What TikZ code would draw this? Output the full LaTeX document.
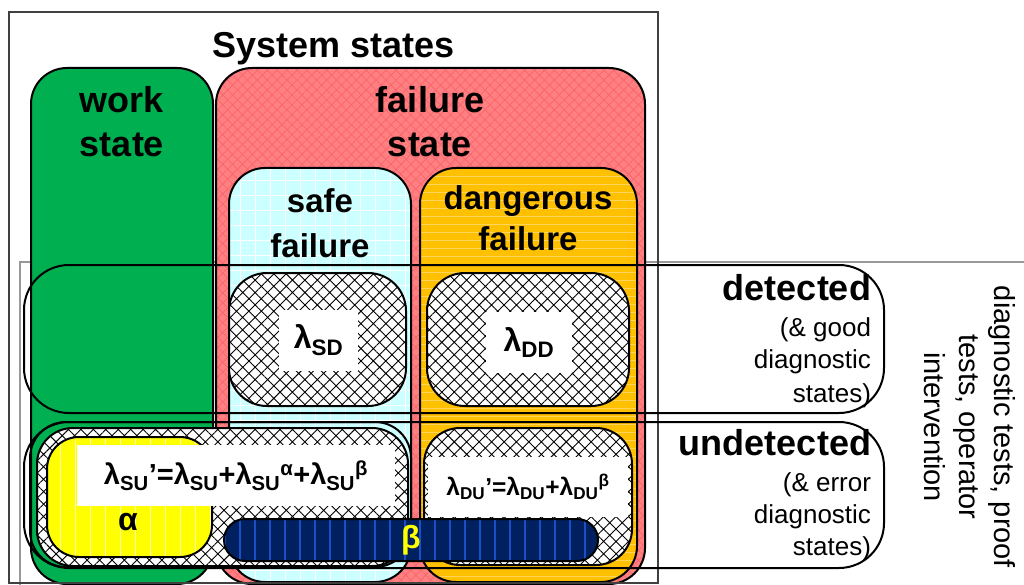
\documentclass[tikz,border=0pt]{standalone}
\usepackage{fontspec}
\setmainfont{Liberation Sans}
\usetikzlibrary{patterns.meta}
\definecolor{wgreen}{HTML}{00B050}
\definecolor{fred}{HTML}{FF8080}
\definecolor{fredl}{HTML}{FA6670}
\definecolor{scyan}{HTML}{CCFFFF}
\definecolor{dorange}{HTML}{FFC000}
\definecolor{dorangel}{HTML}{FFD45A}
\definecolor{ayellow}{HTML}{FFFF00}
\definecolor{ayellowl}{HTML}{FFFFB0}
\definecolor{bnavy}{HTML}{002060}
\definecolor{bnavyl}{HTML}{1A4FC8}
\definecolor{frame}{HTML}{404040}
\definecolor{gframe}{HTML}{999999}
\newcommand\fs[2]{\fontsize{#1}{#2}\selectfont}
\tikzset{
  box/.style={draw=black, line width=2pt, inner sep=0pt, outer sep=0pt},
  outline/.style={draw=black, line width=2pt, inner sep=0pt, outer sep=0pt},
  hatchbox/.style={box, preaction={fill=white},
    preaction={pattern={Hatch[angle=45,distance=8.8pt,line width=0.9pt]}, pattern color=black}},
  redbox/.style={box, preaction={fill=fred},
    preaction={pattern={Hatch[angle=45,distance=7pt,line width=0.8pt]}, pattern color=fredl}},
  cyanbox/.style={box, preaction={fill=scyan},
    preaction={pattern={Hatch[angle=0,distance=15pt,line width=0.8pt]}, pattern color=white}},
  orangebox/.style={box, preaction={fill=dorange},
    preaction={pattern={Lines[angle=0,distance=8pt,line width=1pt]}, pattern color=dorangel}},
  yellowbox/.style={box, preaction={fill=ayellow},
    preaction={pattern={Lines[angle=90,distance=15pt,line width=1pt]}, pattern color=ayellowl}},
  navybox/.style={box, preaction={fill=bnavy},
    preaction={pattern={Lines[angle=90,distance=15pt,line width=1.5pt]}, pattern color=bnavyl}},
  whitebox/.style={fill=white, inner sep=0pt, outer sep=0pt},
  txt/.style={inner sep=0pt, outer sep=0pt},
  big/.style={txt, font=\bfseries\fs{36}{36}},
  mid/.style={txt, font=\bfseries\fs{33}{33}},
  small/.style={txt, font=\fs{26}{26}},
}
\begin{document}
\begin{tikzpicture}[x=1pt, y=-1pt]
\useasboundingbox (0,0) rectangle (1024,585);
% frames
\node[draw=gframe, line width=2pt, minimum width=1020pt, minimum height=340pt, inner sep=0pt] (diag) at (530,432) {};
% coloured state boxes
\node[box, fill=wgreen, minimum width=182pt, minimum height=516pt, rounded corners=36pt] (work) at (122,326) {};
\node[redbox, minimum width=429pt, minimum height=516pt, rounded corners=36pt] (fail) at (430.5,326) {};
\node[cyanbox, minimum width=182pt, minimum height=414pt, rounded corners=36pt] (safe) at (320,375) {};
\node[orangebox, minimum width=217pt, minimum height=414pt, rounded corners=36pt] (dang) at (528.5,375) {};
\node[draw=frame, line width=1.5pt, minimum width=649pt, minimum height=571pt, inner sep=0pt] (sys) at (333.5,297.5) {};
% detected / undetected outlines
\node[outline, minimum width=860pt, minimum height=148pt, rounded corners=45pt] (det) at (454,339) {};
\node[outline, minimum width=860pt, minimum height=146pt, rounded corners=45pt] (undet) at (454,495) {};
\node[outline, minimum width=381pt, minimum height=145pt, rounded corners=36pt] (suouter) at (220.5,494.5) {};
% hatched rate boxes
\node[hatchbox, minimum width=177pt, minimum height=133pt, rounded corners=38pt] (sd) at (317.5,339.5) {};
\node[whitebox, minimum width=79pt, minimum height=61pt, font=\bfseries\fs{32}{32}] (sdt) at (318.5,340.5) {λ\textsubscript{SD}};
\node[hatchbox, minimum width=202pt, minimum height=133pt, rounded corners=38pt] (dd) at (528,339.5) {};
\node[whitebox, minimum width=86pt, minimum height=61pt, font=\bfseries\fs{32}{32}] (ddt) at (529,342.5) {λ\textsubscript{DD}};
\node[hatchbox, minimum width=371pt, minimum height=138pt, rounded corners=36pt] (su) at (222.5,497) {};
\node[yellowbox, minimum width=165pt, minimum height=120pt, rounded corners=32pt] (alpha) at (129.5,497) {};
\node[whitebox, minimum width=318pt, minimum height=61pt, font=\bfseries\fs{29}{29}] (sut) at (236,475.5) {λ\textsubscript{SU}’=λ\textsubscript{SU}+λ\textsubscript{SU}\textsuperscript{α}+λ\textsubscript{SU}\textsuperscript{β}};
\node[font=\bfseries\fs{32}{32}] (alphat) at (128,522) {α};
\node[hatchbox, minimum width=208pt, minimum height=137pt, rounded corners=36pt] (du) at (528,496.5) {};
\node[whitebox, minimum width=200pt, minimum height=60pt, font=\bfseries\fs{24.5}{24.5}] (dut) at (528,487) {λ\textsubscript{DU}’=λ\textsubscript{DU}+λ\textsubscript{DU}\textsuperscript{β}};
\node[navybox, minimum width=374pt, minimum height=42pt, rounded corners=21pt] (beta) at (411,540) {};
\node[font=\bfseries\fs{32}{32}, text=ayellow] (betat) at (411,540) {β};
% titles
\node[big, anchor=base] (title) at (334,58) {System states};
\node[big, anchor=base] (workA) at (122,113) {work};
\node[big, anchor=base] (workB) at (122,157) {state};
\node[big, anchor=base] (failA) at (430,113) {failure};
\node[big, anchor=base] (failB) at (430,157) {state};
\node[mid, anchor=base] (safeA) at (320,213) {safe};
\node[mid, anchor=base] (safeB) at (320,257) {failure};
\node[mid, anchor=base] (dangA) at (528,210) {dangerous};
\node[mid, anchor=base] (dangB) at (528,250) {failure};
% detection labels
\node[big, anchor=base east] (detA) at (871,300) {detected};
\node[small, anchor=base east] (detB) at (871,336) {(\& good};
\node[small, anchor=base east] (detC) at (871,368) {diagnostic};
\node[small, anchor=base east] (detD) at (871,402) {states)};
\node[big, anchor=base east] (undA) at (871,455) {undetected};
\node[small, anchor=base east] (undB) at (871,491) {(\& error};
\node[small, anchor=base east] (undC) at (871,523) {diagnostic};
\node[small, anchor=base east] (undD) at (871,555) {states)};
\node[rotate=-90, align=center, font=\fs{29}{35}] (diagt) at (970,427) {diagnostic tests, proof\\tests, operator\\intervention};
\end{tikzpicture}
\end{document}
